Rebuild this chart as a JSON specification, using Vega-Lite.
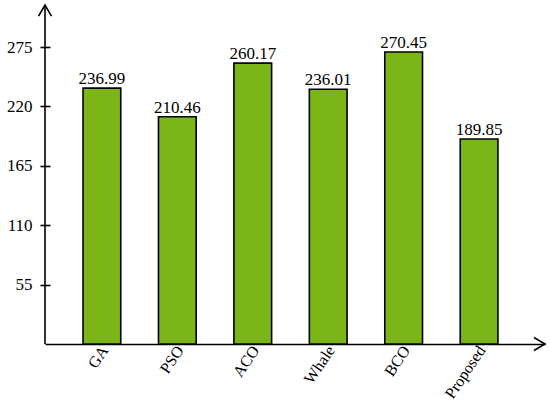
{
  "$schema": "https://vega.github.io/schema/vega-lite/v6.json",
  "width": 500,
  "height": 339,
  "autosize": {"type": "none"},
  "padding": {"left": 45, "top": 5, "right": 5, "bottom": 61},
  "background": "white",
  "config": {"view": {"stroke": null}, "font": "Liberation Serif"},
  "data": {"values": [
    {"method": "GA", "value": 236.99},
    {"method": "PSO", "value": 210.46},
    {"method": "ACO", "value": 260.17},
    {"method": "Whale", "value": 236.01},
    {"method": "BCO", "value": 270.45},
    {"method": "Proposed", "value": 189.85}
  ]},
  "layer": [
    {
      "mark": {"type": "bar", "fill": "#7CB518", "stroke": "#000000", "strokeWidth": 1.6},
      "encoding": {
        "x": {"field": "method", "type": "nominal", "sort": null,
          "scale": {"paddingInner": 0.5, "paddingOuter": 0.564, "align": 0.447},
          "axis": {"title": null, "ticks": false, "domainColor": "#000000", "domainWidth": 1.6,
            "labelAngle": -56, "labelAlign": "right", "labelBaseline": "middle", "labelPadding": 3,
            "labelFontSize": 16, "labelColor": "#000000", "labelFont": "Liberation Serif", "labelOffset": 3}},
        "y": {"field": "value", "type": "quantitative",
          "scale": {"domain": [0, 314], "nice": false},
          "axis": {"title": null, "values": [55, 110, 165, 220, 275], "domain": false, "grid": false,
            "offset": -5, "tickSize": 10, "tickColor": "#000000", "tickWidth": 1.6,
            "labelPadding": 8, "labelFontSize": 17, "labelColor": "#000000", "labelFont": "Liberation Serif"}}
      }
    },
    {
      "mark": {"type": "text", "baseline": "alphabetic", "dy": -4, "fontSize": 17, "font": "Liberation Serif", "color": "#000000"},
      "encoding": {
        "x": {"field": "method", "type": "nominal", "sort": null},
        "y": {"field": "value", "type": "quantitative"},
        "text": {"field": "value", "type": "quantitative", "format": ".2f"}
      }
    },
    {
      "data": {"values": [{}]},
      "mark": {"type": "rule", "color": "#000000", "strokeWidth": 1.6},
      "encoding": {
        "x": {"value": 0},
        "y": {"datum": 0, "type": "quantitative"},
        "y2": {"datum": 314}
      }
    },
    {
      "data": {"values": [{}]},
      "mark": {"type": "point", "shape": "M-1,1.7L0,0L1,1.7", "filled": false, "stroke": "#000000", "strokeWidth": 1.6, "size": 169, "opacity": 1},
      "encoding": {
        "x": {"value": 0},
        "y": {"datum": 314, "type": "quantitative"}
      }
    },
    {
      "data": {"values": [{}]},
      "mark": {"type": "point", "shape": "M-1.7,-1L0,0L-1.7,1", "filled": false, "stroke": "#000000", "strokeWidth": 1.6, "size": 169, "opacity": 1},
      "encoding": {
        "x": {"value": 500},
        "y": {"datum": 0, "type": "quantitative"}
      }
    }
  ]
}
